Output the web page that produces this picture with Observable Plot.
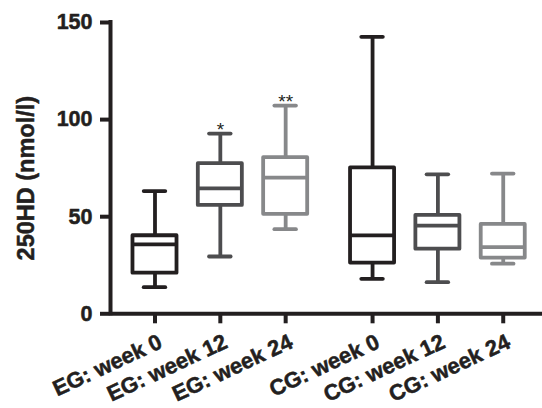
<!DOCTYPE html>
<html><head><meta charset="utf-8">
<script src="https://cdn.jsdelivr.net/npm/d3@7"></script>
<script src="https://cdn.jsdelivr.net/npm/@observablehq/plot@0.6"></script>
<style>html,body{margin:0;padding:0;background:#fff}</style>
</head><body><div id="chart"></div>
<script>
// ---- data ----
const categories = ["EG: week 0", "EG: week 12", "EG: week 24", "CG: week 0", "CG: week 12", "CG: week 24"];
const weeks = ["week 0", "week 12", "week 24"];
const mins    = [13.7, 29.5, 43.6, 18.0, 16.3, 25.8];
const q1s     = [20.9, 55.8, 51.2, 26.1, 33.3, 28.7];
const medians = [35.7, 64.6, 70.1, 40.4, 45.4, 34.3];
const q3s     = [40.2, 77.3, 80.4, 75.1, 50.7, 46.0];
const maxs    = [63.2, 92.8, 107.2, 142.6, 71.8, 72.2];
const notes   = ["", "*", "**", "", "", ""];
const yTicks  = [0, 50, 100, 150];
const yTitle  = "250HD (nmol/l)";

// ---- layout / style ----
const palette = ["#231f20", "#4d4d4f", "#87888a"];
const ink = "#231f20";
const font = "'Liberation Sans', Arial, Helvetica, sans-serif";
const groupGap = 0.33;      // extra space between EG and CG groups
const halfBox = 0.337, halfCap = 0.165;
const lw = 3.8;
const heavy = {stroke: ink, strokeWidth: 0.5, fontWeight: "bold", fill: ink};

const rows = categories.map((c, i) => ({
  cat: c,
  week: c.split(": ")[1],
  pos: i + (i >= 3 ? groupGap : 0),
  min: mins[i], q1: q1s[i], med: medians[i], q3: q3s[i], max: maxs[i],
  note: notes[i]
}));
const xDomain = [-0.681, 5.931];

const chart = Plot.plot({
  width: 542, height: 408,
  marginLeft: 110, marginRight: 0, marginTop: 22, marginBottom: 94.7,
  style: {fontFamily: font, background: "#fff", overflow: "visible"},
  x: {domain: xDomain, axis: null},
  y: {domain: [0, 150], axis: null},
  color: {domain: weeks, range: palette},
  marks: [
    // y axis
    Plot.axisY({ticks: yTicks, tickSize: 10, tickPadding: 8, strokeWidth: 4, stroke: ink,
      text: null, label: null}),
    Plot.text(yTicks, {x: () => xDomain[0], y: d => d, text: d => String(d), dx: -18,
      textAnchor: "end", lineAnchor: "middle", fontSize: 21.5, ...heavy}),
    Plot.ruleX([xDomain[0]], {y1: 0, y2: 150, stroke: ink, strokeWidth: 4, strokeLinecap: "square"}),
    // x axis
    Plot.ruleY([0], {stroke: ink, strokeWidth: 4}),
    Plot.axisX({ticks: rows.map(d => d.pos), tickSize: 10, strokeWidth: 4, stroke: ink,
      text: null, label: null}),
    Plot.text(rows, {x: "pos", y: () => 0, text: "cat", rotate: -25, textAnchor: "end",
      lineAnchor: "top", dx: 2, dy: 19, fontSize: 22, ...heavy}),
    // y title
    Plot.text([yTitle], {frameAnchor: "left", rotate: -90, textAnchor: "middle", lineAnchor: "middle",
      dx: -84, dy: 10, fontSize: 23.5, ...heavy}),
    // whiskers
    Plot.ruleX(rows, {x: "pos", y1: "min", y2: "q1", stroke: "week", strokeWidth: lw}),
    Plot.ruleX(rows, {x: "pos", y1: "q3", y2: "max", stroke: "week", strokeWidth: lw}),
    Plot.ruleY(rows, {y: "min", x1: d => d.pos - halfCap, x2: d => d.pos + halfCap,
      stroke: "week", strokeWidth: lw, strokeLinecap: "round"}),
    Plot.ruleY(rows, {y: "max", x1: d => d.pos - halfCap, x2: d => d.pos + halfCap,
      stroke: "week", strokeWidth: lw, strokeLinecap: "round"}),
    // boxes
    Plot.rect(rows, {x1: d => d.pos - halfBox, x2: d => d.pos + halfBox, y1: "q1", y2: "q3",
      fill: "#fff", stroke: "week", strokeWidth: lw, strokeLinejoin: "round"}),
    Plot.ruleY(rows, {y: "med", x1: d => d.pos - halfBox, x2: d => d.pos + halfBox,
      stroke: "week", strokeWidth: lw}),
    // significance marks
    Plot.text(rows.filter(d => d.note), {x: "pos", y: "max", text: "note", dy: -4,
      lineAnchor: "middle", fontSize: 19, fill: ink})
  ]
});
document.getElementById("chart").append(chart);
</script>
</body></html>
